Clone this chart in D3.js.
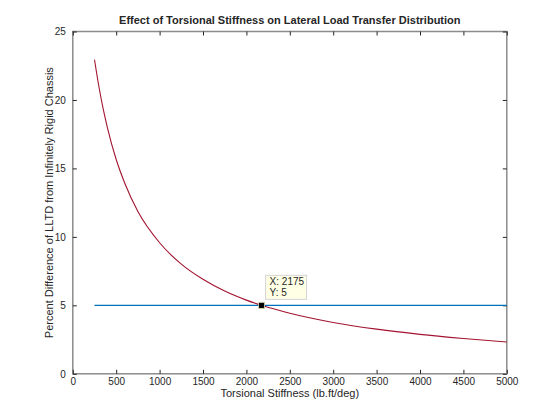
<!DOCTYPE html>
<html>
<head>
<meta charset="utf-8">
<script src="https://cdn.jsdelivr.net/npm/d3@7"></script>
<style>
  body { margin: 0; background: #fff; }
  text { font-family: "Liberation Sans", Arial, Helvetica, sans-serif; fill: #262626; }
</style>
</head>
<body>
<svg id="chart" width="560" height="420"></svg>
<script>
// values
let stiffness = [250, 300, 350, 400, 500, 600, 750, 1000, 1250, 1500, 1750, 2000, 2175, 2500, 3000, 3500, 4000, 4500, 5000];
let lltdDiff  = [22.95, 21.0, 19.35, 17.95, 15.65, 13.9, 11.85, 9.57, 8.01, 6.9, 6.04, 5.38, 5.0, 4.42, 3.75, 3.26, 2.88, 2.58, 2.32];
let limitX = [250, 5000];
let limitY = [5, 5];
let tipPoint = [2175, 5];
let xTicks = [0, 500, 1000, 1500, 2000, 2500, 3000, 3500, 4000, 4500, 5000];
let yTicks = [0, 5, 10, 15, 20, 25];

let svg = d3.select("#chart");
let pLeft = 72.8, pRight = 506.8, pTop = 31.5, pBottom = 373.8;

let x = d3.scaleLinear().domain([0, 5000]).range([pLeft, pRight]);
let y = d3.scaleLinear().domain([0, 25]).range([pBottom, pTop]);

let axisColor = "#8c8c8c";

//Box lines
svg.append("rect")
    .attr("x", pLeft).attr("y", pTop)
    .attr("width", pRight - pLeft).attr("height", pBottom - pTop)
    .attr("fill", "none")
    .attr("stroke", axisColor)
    .attr("stroke-width", 1.5);

//Axes with ticks pointing inside
let xAxis = svg.append("g")
    .attr("transform", "translate(0," + pBottom + ")")
    .call(d3.axisBottom(x).tickValues(xTicks).tickFormat(d3.format("d")).tickSizeInner(-4).tickSizeOuter(0).tickPadding(4));
let xTop = svg.append("g")
    .attr("transform", "translate(0," + pTop + ")")
    .call(d3.axisTop(x).tickValues(xTicks).tickSizeInner(-4).tickSizeOuter(0).tickFormat(""));
let yAxis = svg.append("g")
    .attr("transform", "translate(" + pLeft + ",0)")
    .call(d3.axisLeft(y).tickValues(yTicks).tickSizeInner(-4).tickSizeOuter(0).tickPadding(7));
let yRight = svg.append("g")
    .attr("transform", "translate(" + pRight + ",0)")
    .call(d3.axisRight(y).tickValues(yTicks).tickSizeInner(-4).tickSizeOuter(0).tickFormat(""));

[xAxis, xTop, yAxis, yRight].forEach(a => {
    a.select(".domain").remove();
    a.selectAll("line").attr("stroke", "#262626").attr("stroke-width", 1);
    a.selectAll("text").attr("font-size", 10).attr("fill", "#262626");
});

//Series
let line = d3.line().x(d => x(d[0])).y(d => y(d[1])).curve(d3.curveMonotoneX);

svg.append("path")
    .datum(d3.zip(limitX, limitY))
    .attr("d", line)
    .attr("fill", "none")
    .attr("stroke", "#0072BD")
    .attr("stroke-width", 1.1);

svg.append("path")
    .datum(d3.zip(stiffness, lltdDiff))
    .attr("d", line)
    .attr("fill", "none")
    .attr("stroke", "#A2142F")
    .attr("stroke-width", 1.1);

//Data tip
let tx = x(tipPoint[0]), ty = y(tipPoint[1]);
svg.append("rect")
    .attr("x", tx - 3).attr("y", ty - 3)
    .attr("width", 6).attr("height", 6)
    .attr("fill", "#000")
    .attr("stroke", "#d8d8b0")
    .attr("stroke-width", 0.8);

let tip = svg.append("g").attr("transform", "translate(" + (tx + 4) + "," + (ty - 30) + ")");
tip.append("rect")
    .attr("width", 41).attr("height", 24)
    .attr("fill", "#ffffe6")
    .attr("stroke", "#d4d4d4")
    .attr("stroke-width", 1);
tip.append("text").attr("x", 4).attr("y", 10).attr("font-size", 10).attr("fill", "#000").text("X: " + tipPoint[0]);
tip.append("text").attr("x", 4).attr("y", 21).attr("font-size", 10).attr("fill", "#000").text("Y: " + tipPoint[1]);

//Labels
svg.append("text")
    .attr("x", (pLeft + pRight) / 2).attr("y", 24)
    .attr("text-anchor", "middle")
    .attr("font-size", 11).attr("font-weight", "bold")
    .attr("fill", "#000")
    .text("Effect of Torsional Stiffness on Lateral Load Transfer Distribution");

svg.append("text")
    .attr("x", (pLeft + pRight) / 2).attr("y", 397)
    .attr("text-anchor", "middle")
    .attr("font-size", 11)
    .text("Torsional Stiffness (lb.ft/deg)");

svg.append("text")
    .attr("transform", "translate(53," + ((pTop + pBottom) / 2) + ") rotate(-90)")
    .attr("text-anchor", "middle")
    .attr("font-size", 11)
    .text("Percent Difference of LLTD from Infinitely Rigid Chassis");
</script>
</body>
</html>
